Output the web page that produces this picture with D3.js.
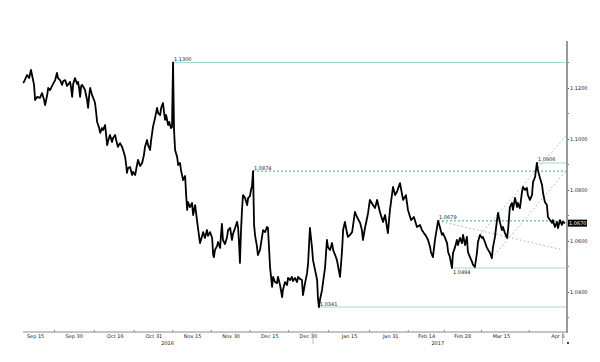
<!DOCTYPE html>
<html>
<head>
<meta charset="utf-8">
<script src="https://cdn.jsdelivr.net/npm/d3@7"></script>
<style>
body { margin: 0; background: #fff; }
svg text { font-family: "DejaVu Sans", sans-serif; font-size: 5px; fill: #222; }
</style>
</head>
<body>
<script>
// EUR/USD, days counted from 15 Sep 2016
var START = Date.UTC(2016, 8, 15);

var days = [-4.7,-4.3,-3.5,-3.1,-2.3,-1.6,-1.2,-0.4,0,0.8,1.9,2.7,3.5,3.9,4.7,5.1,5.8,7.0,7.8,8.5,8.9,9.7,10.5,10.9,11.7,12.4,13.6,14.0,14.4,14.8,15.5,16.3,16.7,17.1,17.5,17.9,18.3,19.0,19.4,20.2,20.6,21.0,21.4,22.1,22.9,23.3,23.7,24.1,24.9,25.3,26.0,26.4,27.2,27.6,28.0,28.7,29.1,29.9,30.3,31.1,31.5,32.2,33.0,33.8,34.2,35.0,35.4,35.7,36.1,36.9,37.7,38.1,38.9,39.6,40.0,40.8,41.6,42.3,42.7,43.5,43.9,44.7,45.1,45.8,46.6,47.4,47.8,48.6,49.0,49.7,50.1,50.5,50.9,51.7,52.1,52.8,53.2,53.6,54.0,54.4,
  55.2,55.6,56.3,56.7,57.5,58.3,58.7,59.1,59.4,60.2,61.0,61.4,62.2,62.9,63.3,64.1,64.9,65.3,66.0,66.8,67.2,68.0,68.8,69.2,69.5,69.9,70.7,71.1,71.9,72.3,72.6,73.0,73.8,74.6,75.0,75.8,76.5,76.9,77.7,78.5,78.9,79.3,79.6,80.0,80.4,80.8,81.6,82.4,82.8,83.5,83.9,84.3,84.7,85.1,85.5,86.2,86.6,87.4,
  88.6,89.4,90.1,90.5,91.3,92.1,92.5,93.2,94.0,94.4,95.2,96.0,96.3,97.1,97.9,98.3,99.1,99.8,100.2,101.0,101.8,102.2,103.0,103.7,104.1,104.9,105.7,106.1,106.8,107.6,108.0,108.8,109.6,109.9,110.3,110.7,111.5,112.7,113.4,113.8,114.6,115.4,115.8,116.6,117.3,118.5,119.3,119.7,120.4,121.2,121.6,122.4,123.2,124.3,125.1,126.3,127.0,127.4,128.2,129.4,130.1,131.3,132.1,132.9,134.0,135.2,136.0,137.1,137.9,139.1,139.9,140.6,141.8,
  143.0,144.1,144.9,146.1,147.2,148.4,149.6,150.3,151.1,151.9,152.7,153.5,153.8,154.6,155.4,156.6,157.3,158.1,158.5,159.3,160.1,160.5,161.2,162.0,162.4,163.2,163.9,164.3,165.1,165.9,166.3,167.1,167.8,168.2,169.0,169.8,170.2,170.9,171.7,172.1,172.9,173.7,174.0,174.8,175.6,176.8,177.5,177.9,178.7,179.5,179.9,180.7,181.4,181.8,182.6,183.4,183.8,184.5,185.3,185.7,186.5,187.3,187.6,188.4,189.2,189.6,190.4,191.1,191.5,192.3,193.1,193.5,194.3,195.0,195.4,196.2,197.0,197.4,198.1,198.9,199.3,200.1,200.9,201.2,202.0,202.8,203.2,204.0,204.7,205.1,205.9];

var eurusd = [1.1220,1.1224,1.1243,1.1251,1.1239,1.1271,1.1251,1.1212,1.1153,1.1165,1.1161,1.1180,1.1153,1.1133,1.1173,1.1200,1.1192,1.1216,1.1231,1.1259,1.1239,1.1231,1.1212,1.1227,1.1231,1.1208,1.1224,1.1200,1.1165,1.1216,1.1239,1.1216,1.1224,1.1200,1.1165,1.1208,1.1212,1.1200,1.1192,1.1153,1.1122,1.1169,1.1200,1.1173,1.1153,1.1141,1.1106,1.1067,1.1043,1.1024,1.1043,1.1035,1.1055,1.1016,1.0976,1.1004,1.1016,1.0988,1.1004,1.1016,1.0996,1.0969,1.0984,1.0969,1.0957,1.0929,1.0898,1.0867,1.0886,1.0890,1.0859,1.0871,1.0859,1.0898,1.0918,1.0894,1.0906,1.0937,1.0969,1.0996,1.0976,1.0957,1.0996,1.1047,1.1082,1.1122,1.1102,1.1094,1.1122,1.1141,1.1106,1.1075,1.1094,1.1055,1.1067,1.1043,1.1047,1.1300,1.1035,1.0957,
  1.0929,1.0898,1.0906,1.0878,1.0839,1.0855,1.0780,1.0722,1.0753,1.0733,1.0749,1.0702,1.0741,1.0682,1.0651,1.0592,1.0620,1.0635,1.0612,1.0643,1.0620,1.0635,1.0612,1.0545,1.0537,1.0565,1.0580,1.0596,1.0573,1.0631,1.0667,1.0604,1.0588,1.0616,1.0643,1.0651,1.0604,1.0627,1.0651,1.0675,1.0651,1.0584,1.0514,1.0635,1.0722,1.0780,1.0769,1.0741,1.0769,1.0776,1.0800,1.0816,1.0874,1.0663,1.0620,1.0580,1.0545,1.0565,
  1.0643,1.0635,1.0655,1.0651,1.0498,1.0420,1.0459,1.0439,1.0435,1.0459,1.0427,1.0380,1.0408,1.0439,1.0427,1.0455,1.0447,1.0459,1.0443,1.0455,1.0439,1.0459,1.0451,1.0447,1.0388,1.0435,1.0475,1.0514,1.0651,1.0576,1.0525,1.0486,1.0447,1.0380,1.0341,1.0369,1.0408,1.0498,1.0604,1.0576,1.0565,1.0592,1.0565,1.0545,1.0525,1.0459,1.0565,1.0643,1.0675,1.0631,1.0616,1.0624,1.0635,1.0714,1.0694,1.0671,1.0643,1.0604,1.0651,1.0710,1.0761,1.0741,1.0729,1.0761,1.0714,1.0675,1.0702,1.0631,1.0722,1.0812,1.0780,1.0792,1.0827,
  1.0761,1.0780,1.0722,1.0682,1.0694,1.0655,1.0663,1.0643,1.0631,1.0620,1.0604,1.0576,1.0557,1.0537,1.0604,1.0679,1.0655,1.0624,1.0631,1.0612,1.0592,1.0557,1.0537,1.0494,1.0553,1.0576,1.0604,1.0584,1.0612,1.0592,1.0624,1.0584,1.0616,1.0557,1.0537,1.0518,1.0506,1.0498,1.0553,1.0596,1.0624,1.0612,1.0616,1.0596,1.0573,1.0553,1.0533,1.0573,1.0616,1.0682,1.0710,1.0671,1.0643,1.0655,1.0631,1.0612,1.0643,1.0733,1.0749,1.0722,1.0769,1.0733,1.0749,1.0729,1.0792,1.0812,1.0800,1.0808,1.0780,1.0761,1.0780,1.0831,1.0851,1.0906,1.0878,1.0847,1.0820,1.0788,1.0753,1.0741,1.0694,1.0682,1.0671,1.0682,1.0655,1.0675,1.0651,1.0682,1.0663,1.0675,1.0670];

var tickDates = ["2016-09-15","2016-09-30","2016-10-16","2016-10-31","2016-11-15","2016-11-30","2016-12-15","2016-12-30","2017-01-15","2017-01-31","2017-02-14","2017-02-28","2017-03-15","2017-04-06"];
var tickLabels = ["Sep 15","Sep 30","Oct 16","Oct 31","Nov 15","Nov 30","Dec 15","Dec 30","Jan 15","Jan 31","Feb 14","Feb 28","Mar 15","Apr 6"];
var years = ["2016","2017"];
var yearStarts = ["2016-09-10","2017-01-01","2017-04-08"];
var priceTicks = [1.04, 1.06, 1.08, 1.10, 1.12];
var priceMinor = [1.03, 1.05, 1.07, 1.09, 1.11, 1.13];

// marked highs / lows, drawn from the day they were set
var levelValues = [1.1300, 1.0874, 1.0341, 1.0679, 1.0494, 1.0906];
var levelDays = [53.6, 84.7, 110.3, 156.6, 162.0, 195.0];
var levelKinds = ["extreme", "pivot", "extreme", "pivot", "low", "extreme"];

// trend channel lines
var trendFromDays = [156.6, 172.1, 177.5];
var trendFromValues = [1.0679, 1.0616, 1.0533];
var trendToDays = [205.1, 206.7, 206.7];
var trendToValues = [1.0565, 1.1016, 1.0880];

var lastPrice = 1.0670;

var W = 600, H = 362;
var toDate = function (d) { return new Date(START + d * 864e5); };
var parse = d3.utcParse("%Y-%m-%d");

var x = d3.scaleUtc().domain([toDate(-4.7), toDate(206.7)]).range([23, 567]);
var y = d3.scaleLinear().domain([1.04, 1.12]).range([292, 88]);

var svg = d3.select("body").append("svg")
    .attr("width", W)
    .attr("height", H);

// horizontal levels
levelValues.forEach(function (v, i) {
  var pivot = levelKinds[i] === "pivot";
  svg.append("line")
    .attr("x1", x(toDate(levelDays[i]))).attr("x2", 567)
    .attr("y1", y(v)).attr("y2", y(v))
    .attr("stroke", pivot ? "#3fa878" : "#a5d9c8")
    .attr("stroke-width", 1)
    .attr("stroke-dasharray", pivot ? "2,2" : null);
  svg.append("text")
    .attr("x", x(toDate(levelDays[i])) + 1)
    .attr("y", levelKinds[i] === "low" ? y(v) + 6 : y(v) - 1.5)
    .text(d3.format(".4f")(v));
});

// trend channel
trendFromDays.forEach(function (d, i) {
  svg.append("line")
    .attr("x1", x(toDate(d))).attr("y1", y(trendFromValues[i]))
    .attr("x2", x(toDate(trendToDays[i]))).attr("y2", y(trendToValues[i]))
    .attr("stroke", "#9ea8e4")
    .attr("stroke-width", 1)
    .attr("stroke-dasharray", "1.5,2.5");
});

// price line
var line = d3.line()
  .x(function (d) { return x(toDate(d)); })
  .y(function (d, i) { return y(eurusd[i]); });

svg.append("path")
  .attr("d", line(days))
  .attr("fill", "none")
  .attr("stroke", "#000")
  .attr("stroke-width", 1.8)
  .attr("stroke-linejoin", "round");

// x axis
var xDates = tickDates.map(parse);
var xAxis = d3.axisBottom(x)
  .tickValues(xDates)
  .tickSize(0)
  .tickPadding(2)
  .tickFormat(function (d, i) { return tickLabels[i]; });

var gx = svg.append("g")
  .attr("transform", "translate(0,332)")
  .call(xAxis);
gx.select(".domain").remove();
gx.selectAll("text").style("font-size", "5px").attr("fill", "#222");

svg.append("line")
  .attr("x1", 23).attr("x2", 567)
  .attr("y1", 332).attr("y2", 332)
  .attr("stroke", "#8a8a8a");

// minor ticks halfway between labels
d3.pairs(xDates).forEach(function (p) {
  var m = new Date((p[0].getTime() + p[1].getTime()) / 2);
  svg.append("line")
    .attr("x1", x(m)).attr("x2", x(m))
    .attr("y1", 330).attr("y2", 332)
    .attr("stroke", "#8a8a8a");
});

// year separators and labels
var ys = yearStarts.map(parse);
ys.slice(1).forEach(function (d) {
  svg.append("line")
    .attr("x1", x(d)).attr("x2", x(d))
    .attr("y1", 332).attr("y2", 344)
    .attr("stroke", "#aaa")
    .attr("stroke-width", 0.8);
});
years.forEach(function (t, i) {
  svg.append("text")
    .attr("x", (x(ys[i]) + x(ys[i + 1])) / 2)
    .attr("y", 345)
    .attr("text-anchor", "middle")
    .text(t);
});

// y axis on the right
var yAxis = d3.axisRight(y)
  .tickValues(priceTicks)
  .tickSize(2)
  .tickPadding(1)
  .tickFormat(d3.format(".4f"));

var gy = svg.append("g")
  .attr("transform", "translate(567,0)")
  .call(yAxis);
gy.select(".domain").remove();
gy.selectAll("line").attr("stroke", "#555");
gy.selectAll("text").style("font-size", "5px").attr("fill", "#222");

priceMinor.forEach(function (v) {
  svg.append("line")
    .attr("x1", 567).attr("x2", 569)
    .attr("y1", y(v)).attr("y2", y(v))
    .attr("stroke", "#777");
});

svg.append("line")
  .attr("x1", 567).attr("x2", 567)
  .attr("y1", 41).attr("y2", 333)
  .attr("stroke", "#9a9a9a")
  .attr("stroke-width", 2);

// last price tag
svg.append("rect")
  .attr("x", 568).attr("y", y(lastPrice) - 3.5)
  .attr("width", 19).attr("height", 7)
  .attr("fill", "#000");
svg.append("text")
  .attr("x", 569).attr("y", y(lastPrice) + 1.8)
  .attr("fill", "#fff")
  .style("fill", "#fff")
  .text(d3.format(".4f")(lastPrice));

svg.append("rect")
  .attr("x", 567).attr("y", 342)
  .attr("width", 2).attr("height", 2)
  .attr("fill", "#444");
</script>
</body>
</html>
